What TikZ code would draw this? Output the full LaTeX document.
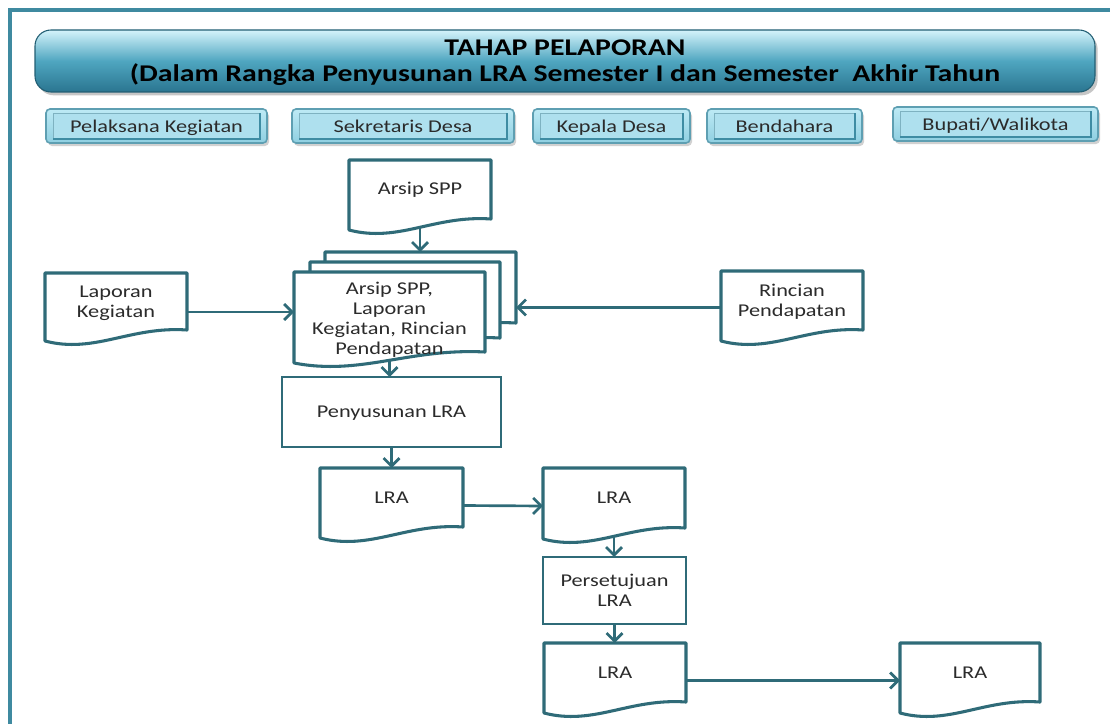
\documentclass[tikz,border=0pt]{standalone}
\usepackage{fontspec}
\setmainfont{Carlito}[FakeStretch=1.24]
\usetikzlibrary{arrows.meta,calc,shadows}

\definecolor{frameline}{HTML}{3F8AA0}
\definecolor{flowline}{HTML}{2F6B78}
\definecolor{flowtext}{HTML}{2B2B2B}
\definecolor{actorrim}{HTML}{5E9FB2}
\definecolor{actortop}{HTML}{BDEAF5}
\definecolor{actorbot}{HTML}{8FCFE1}
\definecolor{actorpanel}{HTML}{AEE0EE}
\definecolor{titletop}{HTML}{D4F3FB}
\definecolor{titlemid}{HTML}{4FA6C0}
\definecolor{titlebot}{HTML}{2A7590}

\pgfdeclarelayer{background}
\pgfsetlayers{background,main}

% outline of a flowchart "document" symbol around a node
\newcommand\docpath[1]{(#1.south east) -- (#1.north east) -- (#1.north west)
  -- ($(#1.south west)+(0,11)$)
  .. controls ($(#1.south west)!0.35!(#1.south east)+(0,24)$)
  and ($(#1.south west)!0.6!(#1.south east)+(0,-4)$) .. (#1.south east) -- cycle}

% bevelled actor button drawn behind its label
\newcommand\actorbutton[1]{%
  \fill[black,opacity=0.18,rounded corners=3pt]
    ($(#1.north west)+(2,3)$) rectangle ($(#1.south east)+(2,3)$);
  \draw[actorrim,line width=1.2pt,rounded corners=3pt,top color=actortop,bottom color=actorbot]
    (#1.north west) rectangle (#1.south east);
  \draw[actorrim!80,line width=0.6pt,fill=actorpanel]
    ($(#1.north west)+(7,4)$) rectangle ($(#1.south east)+(-7,-4)$);
  \draw[actorrim!120,line width=1.2pt]
    ($(#1.north east)+(-7,4)$) -- ($(#1.south east)+(-7,-4)$) -- ($(#1.south west)+(7,-4)$);
}

% move a block of text down inside its node by half of #1
\newcommand\lowertext[2]{\raisebox{0pt}[\height][\dimexpr\depth-#1\relax]{#2}}

\tikzset{
  % place a node by its corner coordinates (in pixel units)
  box/.style n args={4}{minimum width={(#3-#1)*0.75pt}, minimum height={(#4-#2)*0.75pt},
    at={({(#1+#3)/2},{(#2+#4)/2})}},
  body/.style={inner sep=0pt, outer sep=0pt, align=center, text=flowtext,
    font=\fontsize{13.5}{15}\selectfont},
  docline/.style={draw=flowline, line width=2.3pt, fill=white, line join=round},
  boxline/.style={draw=flowline, line width=2.2pt, fill=white},
  actor/.style={inner sep=0pt, outer sep=0pt, text=flowtext, font=\fontsize{13.5}{15}\selectfont},
  arr/.style={draw=flowline, line width=2pt,
    -{Straight Barb[length=6pt,width=12pt,line width=2pt]}},
}

\begin{document}
\begin{tikzpicture}[x=0.75pt,y=-0.75pt]
\useasboundingbox (0,0) rectangle (1110,724);

% page frame
\draw[frameline,line width=3pt] (10,730) -- (10,10) -- (1115,10);

% title bar
\node[box={35}{30}{1095}{92}, inner sep=0pt, rounded corners=12pt,
  draw=titlebot!80!black, line width=0.8pt,
  top color=titletop, bottom color=titlebot, middle color=titlemid,
  drop shadow={opacity=0.45, shadow xshift=2pt, shadow yshift=-2.5pt},
  align=center, font=\fontsize{18}{20}\selectfont\bfseries] (title)
  {\lowertext{3.5pt}{\begin{tabular}{@{}c@{}}TAHAP PELAPORAN\\[-1pt](Dalam Rangka Penyusunan LRA Semester I dan Semester\ \ Akhir Tahun\end{tabular}}};

% actors
\node[actor, box={46}{109}{267}{143}] (pelaksana) {\lowertext{2pt}{Pelaksana Kegiatan}};
\node[actor, box={292}{109}{514}{143}] (sekdes) {\lowertext{2pt}{Sekretaris Desa}};
\node[actor, box={533}{109}{690}{143}] (kades) {\lowertext{2pt}{Kepala Desa}};
\node[actor, box={707}{109}{862}{143}] (bendahara) {\lowertext{2pt}{Bendahara}};
\node[actor, box={893}{107}{1098}{141}] (bupati) {\lowertext{2pt}{Bupati/Walikota}};

% flow nodes
\node[body, box={349}{160}{491}{219}] (arsip) {Arsip SPP};
\node[body, box={325}{252}{516}{323}] (stack3) {};
\node[body, box={310}{262}{500}{338}] (stack2) {};
\node[body, box={294}{272}{485}{352}] (stack)
  {\lowertext{12.75pt}{\begin{tabular}{@{}c@{}}Arsip SPP,\\Laporan\\Kegiatan, Rincian\\Pendapatan\end{tabular}}};
\node[body, box={45}{273}{187}{330}] (lap) {\lowertext{3pt}{\begin{tabular}{@{}c@{}}Laporan\\Kegiatan\end{tabular}}};
\node[body, box={721}{271}{863}{330}] (rin) {\lowertext{3pt}{\begin{tabular}{@{}c@{}}Rincian\\Pendapatan\end{tabular}}};
\node[body, box={282}{377}{501}{447}] (peny) {\lowertext{2pt}{Penyusunan LRA}};
\node[body, box={320}{468}{463}{527}] (lra1) {LRA};
\node[body, box={543}{468}{685}{528}] (lra2) {LRA};
\node[body, box={543}{557}{686}{624}] (pers) {Persetujuan\\LRA};
\node[body, box={544}{643}{686}{702}] (lra3) {LRA};
\node[body, box={900}{643}{1040}{702}] (lra4) {LRA};

\begin{pgfonlayer}{background}
  \actorbutton{pelaksana}
  \actorbutton{sekdes}
  \actorbutton{kades}
  \actorbutton{bendahara}
  \actorbutton{bupati}
  \path[docline] \docpath{arsip};
  \path[docline] \docpath{stack3};
  \path[docline] \docpath{stack2};
  \path[docline] \docpath{stack};
  \path[docline] \docpath{lap};
  \path[docline] \docpath{rin};
  \path[docline] \docpath{lra1};
  \path[docline] \docpath{lra2};
  \path[docline] \docpath{lra3};
  \path[docline] \docpath{lra4};
  \draw[boxline] (peny.north west) rectangle (peny.south east);
  \draw[boxline] (pers.north west) rectangle (pers.south east);
\end{pgfonlayer}

% connectors
\coordinate (rinout) at ($(rin.west)+(0,7)$);
\draw[arr] ($(arsip.south)+(0,9)$) -- (arsip.south |- stack3.north);
\draw[arr] (lap.east |- stack.west) -- (stack.west);
\draw[arr] (rinout) -- (rinout -| stack3.east);
\draw[arr] ($(stack.south)+(0,8)$) -- (stack.south |- peny.north);
\draw[arr] (peny.south) -- (peny.south |- lra1.north);
\draw[arr] ($(lra1.east)+(0,8)$) -- ($(lra2.west)+(0,8)$);
\draw[arr] ($(lra2.south)+(0,8)$) -- (lra2.south |- pers.north);
\draw[arr] (pers.south) -- (pers.south |- lra3.north);
\draw[arr] ($(lra3.east)+(0,8)$) -- ($(lra4.west)+(0,8)$);
\end{tikzpicture}
\end{document}
